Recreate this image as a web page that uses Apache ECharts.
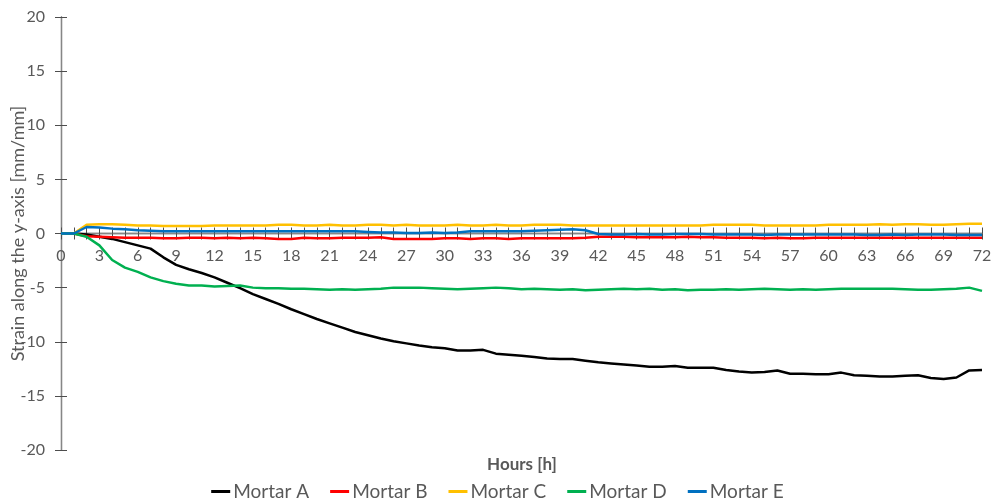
<!DOCTYPE html>
<html><head><meta charset="utf-8">
<script src="https://cdn.jsdelivr.net/npm/echarts@6/dist/echarts.min.js"></script>
<style>html,body{margin:0;padding:0;background:#fff}#c{width:995px;height:503px}</style>
</head><body><div id="c"></div>
<script>
const hours = Array.from({length: 73}, (_, i) => i);
const seriesNames = ['Mortar A','Mortar B','Mortar C','Mortar D','Mortar E'];
const mortarA = [0,0,-0.1,-0.3,-0.5,-0.8,-1.1,-1.4,-2.2,-2.9,-3.3,-3.65,-4.05,-4.55,-5.05,-5.6,-6.05,-6.5,-7.0,-7.45,-7.9,-8.3,-8.7,-9.1,-9.4,-9.7,-9.95,-10.15,-10.35,-10.5,-10.6,-10.8,-10.8,-10.75,-11.1,-11.2,-11.3,-11.4,-11.55,-11.6,-11.6,-11.75,-11.9,-12.0,-12.1,-12.2,-12.3,-12.3,-12.25,-12.4,-12.4,-12.4,-12.6,-12.75,-12.85,-12.8,-12.65,-12.95,-12.95,-13.0,-13.0,-12.85,-13.1,-13.15,-13.2,-13.2,-13.15,-13.1,-13.35,-13.45,-13.3,-12.65,-12.6];
const mortarB = [0,0,-0.25,-0.3,-0.35,-0.4,-0.4,-0.4,-0.45,-0.45,-0.4,-0.4,-0.45,-0.4,-0.45,-0.4,-0.45,-0.5,-0.5,-0.4,-0.45,-0.45,-0.4,-0.4,-0.4,-0.35,-0.5,-0.5,-0.5,-0.5,-0.45,-0.45,-0.5,-0.45,-0.45,-0.5,-0.45,-0.45,-0.45,-0.45,-0.45,-0.4,-0.3,-0.3,-0.3,-0.35,-0.35,-0.35,-0.35,-0.3,-0.35,-0.35,-0.4,-0.4,-0.4,-0.45,-0.4,-0.45,-0.45,-0.4,-0.4,-0.4,-0.4,-0.4,-0.4,-0.4,-0.4,-0.4,-0.4,-0.4,-0.4,-0.4,-0.4];
const mortarC = [0,0,0.8,0.85,0.85,0.8,0.75,0.75,0.7,0.7,0.7,0.7,0.75,0.75,0.75,0.75,0.75,0.8,0.8,0.75,0.75,0.8,0.75,0.75,0.8,0.8,0.75,0.8,0.75,0.75,0.75,0.8,0.75,0.75,0.8,0.75,0.75,0.8,0.8,0.8,0.75,0.75,0.75,0.75,0.75,0.75,0.75,0.75,0.75,0.75,0.75,0.8,0.8,0.8,0.8,0.75,0.75,0.75,0.75,0.75,0.8,0.8,0.8,0.8,0.85,0.8,0.85,0.85,0.8,0.8,0.85,0.9,0.9];
const mortarD = [0,0,-0.3,-1.1,-2.45,-3.15,-3.55,-4.05,-4.4,-4.65,-4.8,-4.8,-4.9,-4.85,-4.8,-5.0,-5.05,-5.05,-5.1,-5.1,-5.15,-5.2,-5.15,-5.2,-5.15,-5.1,-5.0,-5.0,-5.0,-5.05,-5.1,-5.15,-5.1,-5.05,-5.0,-5.05,-5.15,-5.1,-5.15,-5.2,-5.15,-5.25,-5.2,-5.15,-5.1,-5.15,-5.1,-5.2,-5.15,-5.25,-5.2,-5.2,-5.15,-5.2,-5.15,-5.1,-5.15,-5.2,-5.15,-5.2,-5.15,-5.1,-5.1,-5.1,-5.1,-5.1,-5.15,-5.2,-5.2,-5.15,-5.1,-5.0,-5.3];
const mortarE = [0,0,0.6,0.55,0.45,0.4,0.3,0.25,0.2,0.2,0.2,0.2,0.2,0.2,0.2,0.2,0.2,0.2,0.2,0.2,0.2,0.2,0.2,0.2,0.15,0.1,0.1,0.05,0.05,0.1,0.05,0.1,0.2,0.2,0.2,0.2,0.2,0.25,0.3,0.35,0.4,0.3,-0.05,-0.1,-0.1,-0.05,-0.1,-0.1,-0.05,-0.05,-0.05,-0.1,-0.1,-0.1,-0.1,-0.15,-0.1,-0.1,-0.1,-0.1,-0.1,-0.1,-0.1,-0.15,-0.15,-0.1,-0.15,-0.1,-0.1,-0.1,-0.15,-0.15,-0.15];
const colors = ['#000000','#FF0000','#FFC000','#00B050','#0070C0'];
const allData = [mortarA, mortarB, mortarC, mortarD, mortarE];

const FONT = 'Lato';
const axisGray = '#868686';
const tickGray = '#4d4d4d';
const textGray = '#595959';

const chart = echarts.init(document.getElementById('c'), null, {renderer: 'canvas'});

// grid 0: plotting area; grid 1: upper half whose bottom edge is y = 0 (where the x axis sits)
const PLOT_TOP = 17, PLOT_BOTTOM = 53, H = 503;
const zeroFromBottom = H - (PLOT_TOP + (H - PLOT_TOP - PLOT_BOTTOM) / 2);

function xAx(grid, inside, labels, show) {
  return {
    type: 'value', min: 0, max: 72, interval: 1, gridIndex: grid, position: 'bottom', show: show,
    splitLine: {show: false},
    axisLine: {show: true, onZero: false, lineStyle: {color: axisGray, width: 1.3}},
    axisTick: {show: true, inside: inside, length: 6, lineStyle: {color: tickGray, width: 1}},
    axisLabel: labels ? {show: true, margin: 14, color: textGray, fontSize: 16, fontFamily: FONT,
      formatter: v => (v % 3 === 0 ? String(v) : '')} : {show: false}
  };
}
function yAx(inside, labels) {
  const o = {
    type: 'value', min: -20, max: 20, interval: 5, gridIndex: 0, position: 'left',
    splitLine: {show: false},
    axisLine: {show: true, onZero: false, lineStyle: {color: axisGray, width: 1.3}},
    axisTick: {show: true, inside: inside, length: 6, lineStyle: {color: tickGray, width: 1}},
    axisLabel: labels ? {show: true, margin: 16, color: textGray, fontSize: 16, fontFamily: FONT} : {show: false}
  };
  if (labels) {
    o.name = 'Strain along the y-axis [mm/mm]';
    o.nameLocation = 'middle';
    o.nameGap = 34;
    o.nameMoveOverlap = false;
    o.nameTextStyle = {color: textGray, fontSize: 18, fontFamily: FONT};
  }
  return o;
}
chart.setOption({
  animation: false,
  textStyle: {fontFamily: FONT},
  grid: [
    {left: 61, right: 13, top: PLOT_TOP, bottom: PLOT_BOTTOM, containLabel: false, outerBoundsMode: 'none'},
    {left: 61, right: 13, top: PLOT_TOP, bottom: zeroFromBottom, containLabel: false, outerBoundsMode: 'none'}
  ],
  xAxis: [xAx(0, false, false, false), xAx(1, false, true, true), xAx(1, true, false, true)],
  yAxis: [yAx(false, true), yAx(true, false),
    {type: 'value', gridIndex: 1, min: 0, max: 1, show: false}],
  legend: {
    data: seriesNames, top: 477, left: 'center',
    icon: 'rect', itemWidth: 19, itemHeight: 3, itemGap: 21,
    textStyle: {color: textGray, fontSize: 19, fontFamily: FONT, padding: [0, 0, 0, -2]}
  },
  graphic: [{
    type: 'text', x: 522, y: 465,
    style: {text: 'Hours [h]', fill: textGray, font: 'bold 17px ' + FONT, align: 'center', verticalAlign: 'middle'}
  }],
  series: allData.map((d, i) => ({
    name: seriesNames[i], type: 'line', xAxisIndex: 0, yAxisIndex: 0,
    data: hours.map((h, j) => [h, d[j]]),
    showSymbol: false, symbol: 'none',
    lineStyle: {color: colors[i], width: 2.5},
    itemStyle: {color: colors[i]},
    z: 3 + i
  }))
});
</script></body></html>
